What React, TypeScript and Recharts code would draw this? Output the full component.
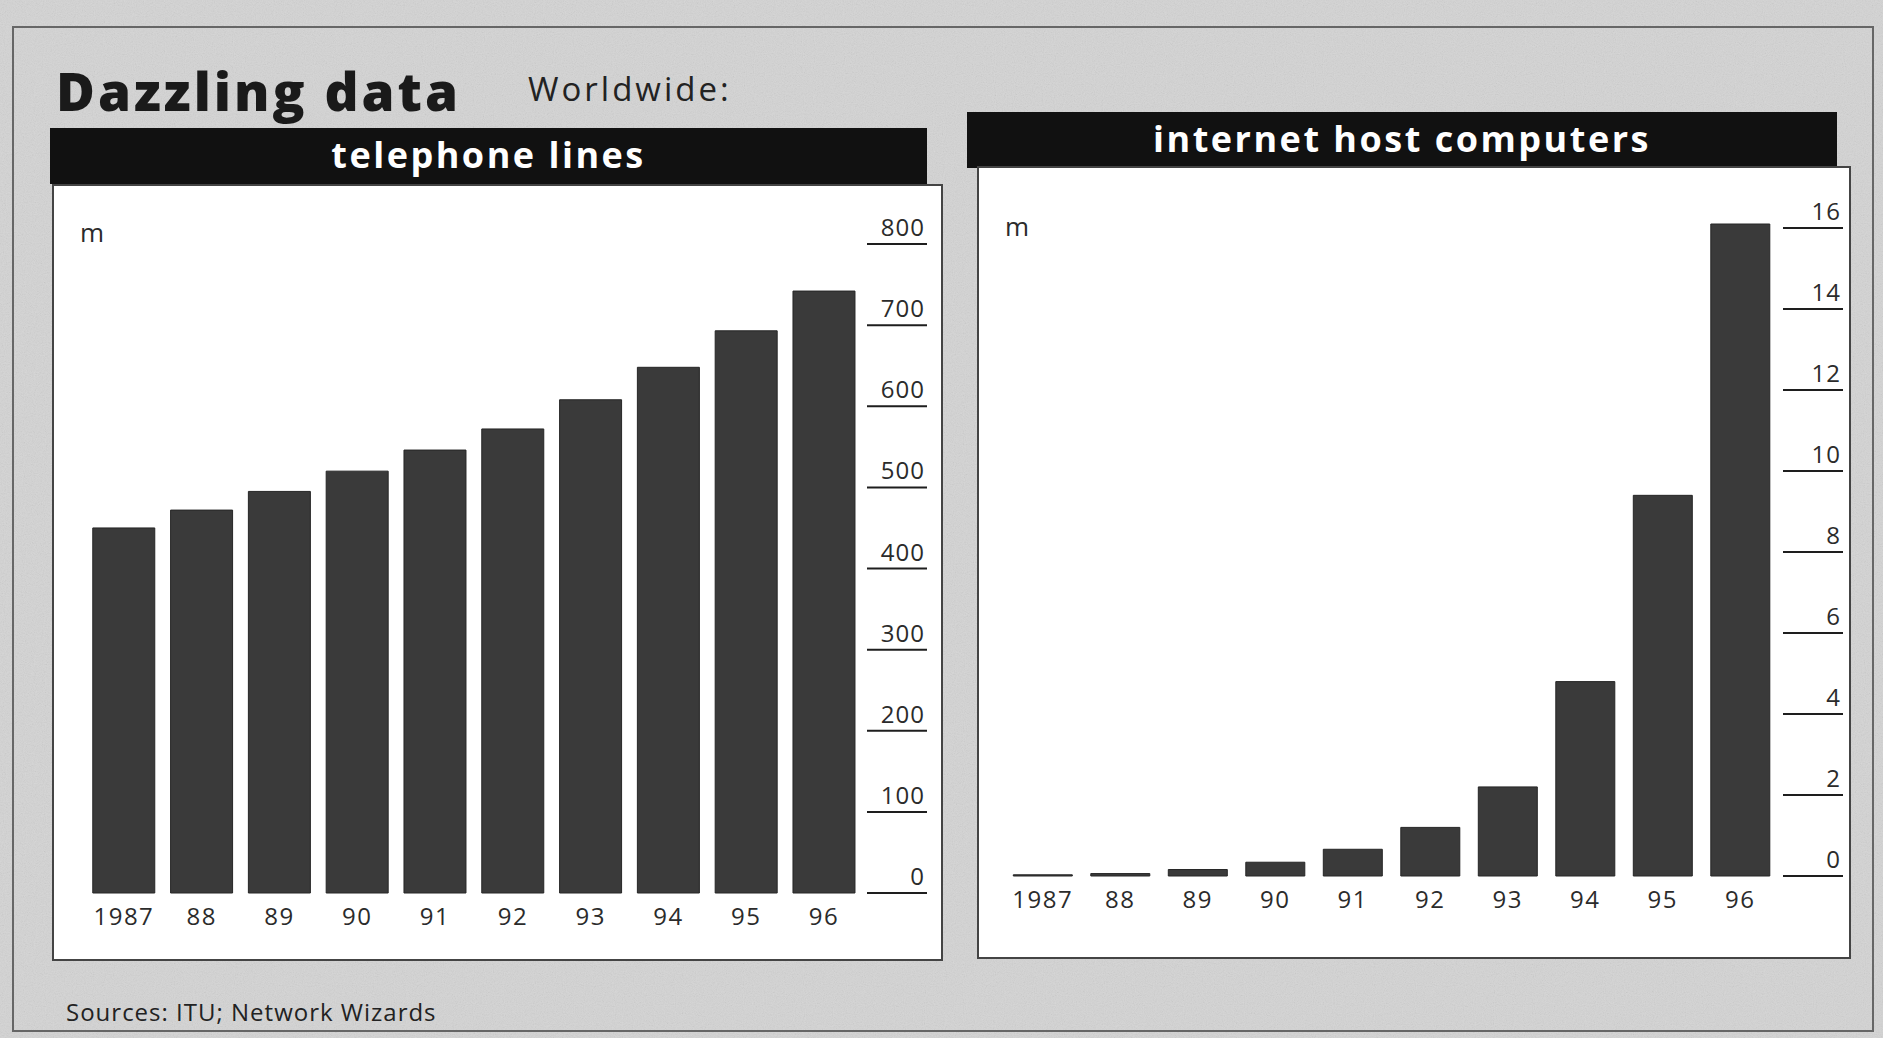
import { BarChart, Bar, XAxis, YAxis } from "recharts";

const years = ["1987", "88", "89", "90", "91", "92", "93", "94", "95", "96"];
// worldwide telephone lines, m
const phoneLines = [450, 472, 495, 520, 546, 572, 608, 648, 693, 742];
// internet host computers, m
const internetHosts = [0.03, 0.06, 0.16, 0.34, 0.66, 1.2, 2.2, 4.8, 9.4, 16.1];
const phoneTicks = [0, 100, 200, 300, 400, 500, 600, 700, 800];
const hostTicks = [0, 2, 4, 6, 8, 10, 12, 14, 16];

const FONT = "'Open Sans', 'DejaVu Sans', sans-serif";
const INK = "#2b2b2b";
const BAR = "#3a3a3a";

const rows = years.map((year, i) => ({
  year,
  lines: phoneLines[i],
  hosts: internetHosts[i],
}));

// label sits on top of a short rule, like the printed scale
function RuleTick(props: any) {
  const { x, y, payload } = props;
  return (
    <g>
      <line x1={x + 4} x2={x + 64} y1={y} y2={y} stroke="#1e1e1e" strokeWidth={2} />
      <text x={x + 62} y={y - 8} textAnchor="end" fontSize={24} letterSpacing={1} fill={INK} fontFamily={FONT}>
        {payload.value}
      </text>
    </g>
  );
}

function YearTick(props: any) {
  const { x, y, payload } = props;
  return (
    <text x={x} y={y + 18} textAnchor="middle" fontSize={24} letterSpacing={1.5} fill={INK} fontFamily={FONT}>
      {payload.value}
    </text>
  );
}

function Header({ left, top, width, text }: { left: number; top: number; width: number; text: string }) {
  return (
    <div
      style={{
        position: "absolute",
        left,
        top,
        width,
        height: 56,
        background: "#111",
        color: "#fff",
        fontFamily: FONT,
        fontWeight: 700,
        fontSize: 36,
        letterSpacing: 2.5,
        lineHeight: "54px",
        textAlign: "center",
      }}
    >
      {text}
    </div>
  );
}

const panel = {
  position: "absolute" as const,
  background: "#fff",
  border: "2px solid #444",
  boxSizing: "border-box" as const,
};

export default function App() {
  return (
    <div
      style={{
        position: "absolute",
        left: 0,
        top: 0,
        width: 1883,
        height: 1038,
        background: "#d4d4d4",
        overflow: "hidden",
        fontFamily: FONT,
      }}
    >
      {/* newsprint grain */}
      <svg width={1883} height={1038} style={{ position: "absolute", left: 0, top: 0 }}>
        <filter id="grain">
          <feTurbulence type="fractalNoise" baseFrequency="0.9" numOctaves={2} seed={3} />
          <feColorMatrix type="saturate" values="0" />
        </filter>
        <rect width={1883} height={1038} filter="url(#grain)" opacity={0.22} />
      </svg>
      <div
        style={{
          position: "absolute",
          left: 12,
          top: 26,
          width: 1862,
          height: 1006,
          border: "2px solid #666",
          boxSizing: "border-box",
        }}
      />
      <div style={{ position: "absolute", left: 56, top: 54, fontSize: 53, fontWeight: 800, color: "#1a1a1a", letterSpacing: 3 }}>
        Dazzling data
      </div>
      <div style={{ position: "absolute", left: 528, top: 66, fontSize: 33, color: "#222", letterSpacing: 3 }}>Worldwide:</div>

      {/* left panel */}
      <Header left={50} top={128} width={877} text="telephone lines" />
      <div style={{ ...panel, left: 52, top: 184, width: 891, height: 777 }}>
        <div style={{ position: "absolute", left: 26, top: 28, fontSize: 26, color: INK }}>m</div>
        <BarChart
          width={889}
          height={775}
          data={rows}
          margin={{ top: 58, right: 12, left: 31, bottom: 28 }}
          barCategoryGap="10%"
        >
          <XAxis dataKey="year" axisLine={false} tickLine={false} tickSize={0} tickMargin={14} height={40} tick={<YearTick />} interval={0} />
          <YAxis
            orientation="right"
            domain={[0, 800]}
            ticks={phoneTicks}
            axisLine={false}
            tickLine={false}
            tickSize={0}
            tickMargin={0}
            width={68}
            tick={<RuleTick />}
          />
          <Bar dataKey="lines" fill={BAR} stroke="#262626" strokeWidth={1} isAnimationActive={false} />
        </BarChart>
      </div>

      {/* right panel */}
      <Header left={967} top={112} width={870} text="internet host computers" />
      <div style={{ ...panel, left: 977, top: 166, width: 874, height: 793 }}>
        <div style={{ position: "absolute", left: 26, top: 40, fontSize: 26, color: INK }}>m</div>
        <BarChart
          width={872}
          height={791}
          data={rows}
          margin={{ top: 56, right: 4, left: 25, bottom: 43 }}
          barCategoryGap="12%"
        >
          <XAxis dataKey="year" axisLine={false} tickLine={false} tickSize={0} tickMargin={14} height={40} tick={<YearTick />} interval={0} />
          <YAxis
            orientation="right"
            domain={[0, 16]}
            ticks={hostTicks}
            axisLine={false}
            tickLine={false}
            tickSize={0}
            tickMargin={0}
            width={68}
            tick={<RuleTick />}
          />
          <Bar dataKey="hosts" fill={BAR} stroke="#262626" strokeWidth={1} isAnimationActive={false} />
        </BarChart>
      </div>

      <div style={{ position: "absolute", left: 66, top: 995, fontSize: 24, color: "#222", letterSpacing: 1 }}>
        Sources: ITU; Network Wizards
      </div>
    </div>
  );
}
